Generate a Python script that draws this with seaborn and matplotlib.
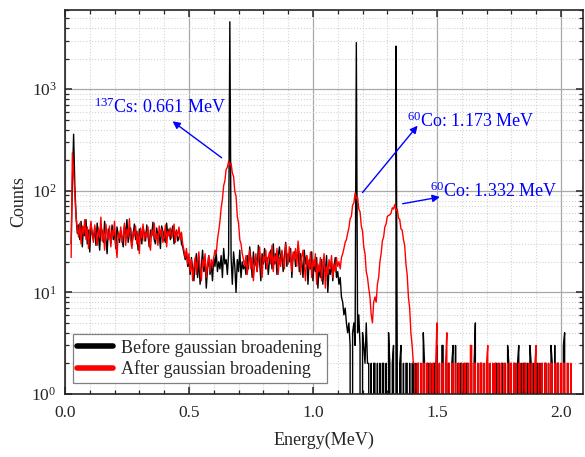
import numpy as np
import pandas as pd
import matplotlib
matplotlib.use("Agg")
import matplotlib.pyplot as plt
from matplotlib.ticker import MultipleLocator, LogLocator, NullFormatter
import seaborn as sns

# Energy grid of the spectrum (MeV): first channel and channel width
E0 = 0.025
DE = 0.005

# Counts before broadening, rows of 20 channels (0.1 MeV each)
before = [
    30, 120, 360, 110, 55, 38, 46, 33, 50, 28, 44, 36, 52, 30, 41, 25, 47, 38, 34, 43,
    29, 48, 37, 26, 45, 40, 31, 50, 35, 24, 42, 38, 30, 46, 33, 39, 27, 44, 36, 31,
    41, 34, 28, 45, 37, 52, 31, 38, 43, 29, 36, 47, 33, 40, 26, 42, 35, 30, 44, 38,
    32, 46, 36, 28, 41, 37, 49, 33, 30, 43, 35, 38, 27, 45, 40, 34, 31, 48, 36, 42,
    33, 39, 45, 30, 37, 41, 32, 35, 38, 30, 28, 24, 21, 25, 18, 20, 15, 22, 17, 13,
    19, 24, 14, 21, 12, 18, 26, 16, 20, 11, 17, 23, 15, 19, 13, 22, 18, 25, 16, 20,
    17, 23, 14, 27, 19, 21, 15, 24, 4600, 22, 12, 25, 18, 10, 21, 16, 26, 14, 20, 17,
    19, 15, 23, 17, 28, 21, 14, 25, 18, 22, 16, 29, 20, 13, 24, 19, 27, 17, 22, 15,
    21, 26, 17, 30, 19, 24, 15, 23, 28, 20, 25, 16, 22, 31, 18, 24, 20, 27, 14, 23,
    25, 18, 22, 29, 16, 24, 20, 14, 26, 19, 23, 12, 21, 17, 25, 13, 20, 16, 22, 11,
    18, 14, 21, 12, 19, 16, 23, 10, 17, 15, 20, 13, 18, 22, 14, 16, 12, 14, 9, 8,
    6, 7, 5, 4, 5, 3, 0, 4, 5, 3, 2870, 4, 6, 3, 0, 4, 3, 2, 5, 2,
    2, 0, 2, 0, 2, 2, 0, 2, 0, 2, 0, 2, 2, 0, 2, 0, 4, 2, 0, 2,
    3, 0, 2650, 2, 0, 2, 3, 0, 2, 0, 2, 2, 0, 2, 0, 2, 2, 0, 2, 0,
    2, 0, 2, 0, 4, 2, 0, 2, 2, 0, 2, 0, 2, 2, 0, 3, 0, 2, 0, 3,
    3, 0, 2, 0, 2, 2, 0, 2, 3, 0, 3, 0, 2, 0, 2, 2, 0, 2, 0, 2,
    2, 0, 2, 2, 0, 2, 5, 0, 2, 0, 2, 2, 0, 2, 0, 2, 2, 0, 2, 0,
    2, 0, 2, 2, 0, 2, 0, 2, 2, 0, 2, 0, 3, 2, 0, 2, 0, 2, 2, 0,
    2, 3, 0, 2, 0, 2, 2, 0, 2, 0, 3, 2, 0, 2, 0, 2, 2, 0, 2, 0,
    2, 0, 2, 2, 0, 2, 0, 3, 2, 0, 3, 0, 2, 2, 0, 2, 0, 3, 4, 0,
]

# Counts after gaussian broadening
after = [
    22, 236, 150, 90, 55, 42, 35, 48, 30, 45, 38, 52, 33, 44, 27, 40, 50, 36, 31, 46,
    38, 29, 43, 35, 55, 32, 40, 26, 47, 37, 33, 45, 28, 41, 36, 50, 30, 22, 39, 34,
    44, 31, 37, 48, 29, 42, 35, 53, 33, 27, 40, 36, 45, 30, 38, 24, 43, 34, 47, 32,
    39, 35, 44, 30, 26, 41, 36, 48, 33, 38, 29, 45, 37, 42, 31, 35, 46, 28, 40, 36,
    43, 34, 38, 47, 31, 40, 36, 44, 33, 39, 30, 26, 22, 27, 19, 24, 16, 21, 13, 18,
    22, 15, 20, 25, 17, 13, 21, 18, 24, 14, 19, 23, 16, 21, 18, 22, 26, 24, 33, 40,
    50, 68, 82, 112, 125, 162, 170, 194, 180, 186, 150, 138, 98, 88, 56, 48, 33, 30, 24, 21,
    18, 23, 15, 20, 26, 17, 22, 13, 19, 24, 16, 21, 28, 18, 14, 23, 20, 26, 17, 22,
    25, 19, 29, 16, 23, 20, 27, 15, 22, 18, 26, 21, 17, 30, 24, 19, 28, 22, 16, 25,
    21, 27, 18, 32, 24, 15, 22, 26, 19, 13, 23, 20, 17, 25, 14, 21, 18, 24, 12, 19,
    16, 22, 13, 19, 24, 11, 18, 15, 21, 17, 23, 14, 19, 16, 22, 18, 20, 17, 22, 24,
    27, 31, 33, 38, 43, 53, 56, 72, 76, 95, 84, 86, 66, 62, 45, 40, 28, 24, 16, 14,
    11, 9, 6, 5, 8, 9, 8, 12, 14, 20, 24, 32, 35, 44, 47, 56, 57, 58, 60, 68,
    66, 73, 64, 66, 54, 52, 42, 41, 33, 29, 19, 15, 9, 7, 4, 3, 2, 2, 0, 2,
    2, 0, 2, 0, 2, 2, 0, 2, 0, 2, 2, 0, 2, 0, 2, 5, 0, 2, 0, 2,
    2, 0, 2, 4, 0, 2, 0, 2, 2, 0, 2, 0, 2, 2, 0, 2, 0, 2, 2, 0,
    2, 0, 3, 3, 0, 2, 2, 0, 2, 0, 2, 2, 0, 2, 0, 2, 3, 0, 2, 0,
    2, 0, 2, 0, 2, 2, 0, 2, 0, 2, 2, 0, 2, 0, 2, 2, 0, 2, 0, 2,
    0, 2, 2, 0, 2, 0, 2, 2, 0, 2, 0, 2, 2, 0, 2, 3, 0, 2, 0, 2,
    2, 0, 2, 2, 0, 2, 0, 2, 2, 0, 2, 0, 2, 2, 0, 2, 0, 2, 2, 0,
    2, 2, 0, 2, 0,
]

labels = ["Before gaussian broadening", "After gaussian broadening"]

# peak annotations: text, text position, arrow tail, arrow head
peak_texts = [r"$^{137}$Cs: 0.661 MeV", r"$^{60}$Co: 1.173 MeV", r"$^{60}$Co: 1.332 MeV"]
text_pos = [(0.118, 660), (1.380, 482), (1.472, 98)]
arrow_tail = [(0.632, 211), (1.200, 96), (1.362, 74.5)]
arrow_head = [(0.434, 482), (1.422, 437), (1.512, 86.7)]

df = pd.concat([
    pd.DataFrame({"Energy": np.round(E0 + DE * np.arange(len(before)), 3),
                  "Counts": before, "Series": labels[0]}),
    pd.DataFrame({"Energy": np.round(E0 + DE * np.arange(len(after)), 3),
                  "Counts": after, "Series": labels[1]}),
], ignore_index=True)

sns.set_style("ticks")
plt.rcParams["font.family"] = ["Liberation Serif", "DejaVu Serif"]
plt.rcParams["mathtext.fontset"] = "custom"
plt.rcParams["mathtext.rm"] = "Liberation Serif"
plt.rcParams["mathtext.it"] = "Liberation Serif:italic"
plt.rcParams["mathtext.bf"] = "Liberation Serif:bold"

fig = plt.figure(figsize=(5.85, 4.57), dpi=100)
ax = fig.add_axes([0.111, 0.138, 0.886, 0.840])

sns.lineplot(data=df, x="Energy", y="Counts", hue="Series",
             palette={labels[0]: "black", labels[1]: "red"},
             estimator=None, sort=False, errorbar=None, linewidth=1.0, ax=ax)

ax.set_yscale("log")
ax.set_xlim(0, 2.09)
ax.set_ylim(1, 6000)

ax.xaxis.set_major_locator(MultipleLocator(0.5))
ax.xaxis.set_minor_locator(MultipleLocator(0.1))
ax.yaxis.set_major_locator(LogLocator(base=10))
ax.yaxis.set_minor_locator(LogLocator(base=10, subs=np.arange(2, 10)))
ax.yaxis.set_minor_formatter(NullFormatter())

ax.grid(which="major", color="#a8a8a8", linewidth=0.9, linestyle="-")
ax.grid(which="minor", color="#d4d4d4", linewidth=0.8, linestyle=":")
ax.set_axisbelow(True)

ax.tick_params(which="both", direction="in", top=True, right=True, labelsize=12.5)
ax.tick_params(which="major", length=5, width=1.1)
ax.tick_params(which="minor", length=3, width=0.9)
ax.tick_params(axis="x", which="major", pad=8)
ax.tick_params(axis="y", which="major", pad=6)
for s in ax.spines.values():
    s.set_linewidth(1.2)

ax.set_xlabel("Energy(MeV)", fontsize=13, labelpad=8)
ax.set_ylabel("Counts", fontsize=13, labelpad=3)

for txt, tp, tail, head in zip(peak_texts, text_pos, arrow_tail, arrow_head):
    ax.annotate("", xy=head, xytext=tail,
                arrowprops=dict(arrowstyle="-|>", color="blue", lw=1.0,
                                mutation_scale=11, shrinkA=0, shrinkB=0))
    ax.text(tp[0], tp[1], txt, color="blue", fontsize=13, ha="left", va="center")

leg = ax.legend(loc="lower left", bbox_to_anchor=(0.015, 0.029), borderaxespad=0,
                fontsize=13, fancybox=False, edgecolor="#808080", framealpha=1,
                handlelength=2.0, handletextpad=0.45, borderpad=0.25, labelspacing=0.2)
leg.get_frame().set_linewidth(0.9)
for ln in leg.get_lines():
    ln.set_linewidth(4)
    ln.set_solid_capstyle("round")

fig.savefig("out.png", dpi=100)
